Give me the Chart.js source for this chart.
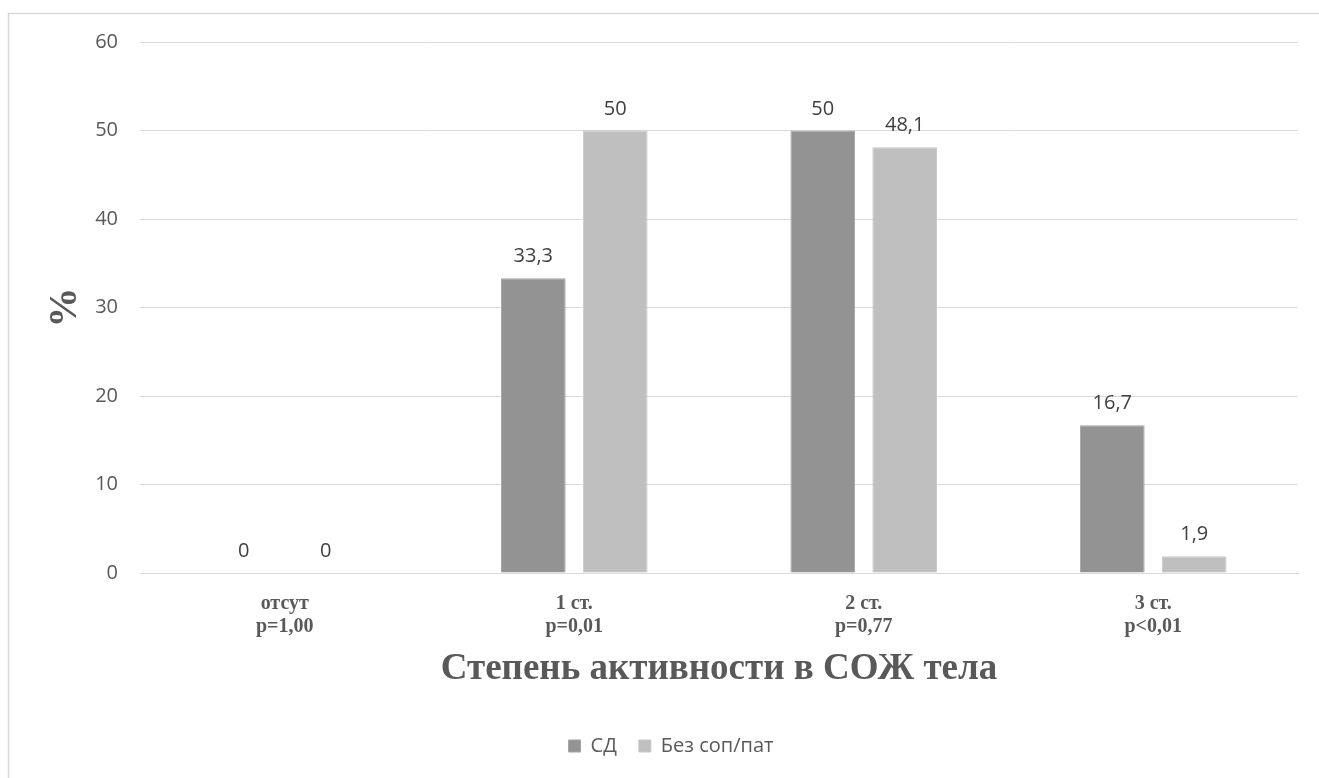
<!DOCTYPE html>
<html>
<head>
<meta charset="utf-8">
<script src="https://cdn.jsdelivr.net/npm/chart.js@4"></script>
<style>
  html, body { margin: 0; padding: 0; background: #ffffff; }
  #wrap { width: 1319px; height: 778px; position: relative; }
</style>
</head>
<body>
<div id="wrap"><canvas id="chart"></canvas></div>
<script>
// Категории (две строки подписи: степень и p-значение)
const categories = [
  ['отсут', 'p=1,00'],
  ['1 ст.', 'p=0,01'],
  ['2 ст.', 'p=0,77'],
  ['3 ст.', 'p<0,01']
];
const seriesNames = ['СД', 'Без соп/пат'];
const valuesSD = [0, 33.3, 50, 16.7];
const valuesNoPath = [0, 50, 48.1, 1.9];
const yTicks = [0, 10, 20, 30, 40, 50, 60];

const textGrey = '#595959';
const gridGrey = '#d9d9d9';

// Подписи значений над столбиками (десятичная запятая)
const valueLabels = {
  id: 'valueLabels',
  afterDatasetsDraw(chart) {
    const ctx = chart.ctx;
    ctx.save();
    ctx.font = '20px "Open Sans"';
    ctx.fillStyle = '#404040';
    ctx.textAlign = 'center';
    ctx.textBaseline = 'alphabetic';
    chart.data.datasets.forEach((ds, i) => {
      chart.getDatasetMeta(i).data.forEach((bar, j) => {
        const txt = String(ds.data[j]).replace('.', ',');
        ctx.fillText(txt, bar.x, bar.y - 16);
      });
    });
    ctx.restore();
  }
};

// Рамка области диаграммы
const frame = {
  id: 'frame',
  beforeDraw(chart) {
    const ctx = chart.ctx;
    ctx.save();
    ctx.fillStyle = '#ffffff';
    ctx.fillRect(0, 0, chart.width, chart.height);
    ctx.strokeStyle = gridGrey;
    ctx.lineWidth = 1.5;
    ctx.beginPath();
    ctx.moveTo(8.5, chart.height + 5);
    ctx.lineTo(8.5, 13.5);
    ctx.lineTo(chart.width + 5, 13.5);
    ctx.stroke();
    ctx.restore();
  }
};

// Легенда центрируется по всей ширине рамки
const legendShift = {
  id: 'legendShift',
  afterLayout(chart) {
    const lg = chart.legend;
    if (lg) { lg.left += 22; lg.right += 22; }
  }
};

new Chart(document.getElementById('chart'), {
  type: 'bar',
  data: {
    labels: categories,
    datasets: [
      { label: seriesNames[0], data: valuesSD, backgroundColor: '#939393',
        borderColor: '#a3a3a3', borderWidth: 1 },
      { label: seriesNames[1], data: valuesNoPath, backgroundColor: '#bfbfbf',
        borderColor: '#c9c9c9', borderWidth: 1 }
    ]
  },
  plugins: [frame, valueLabels, legendShift],
  options: {
    responsive: true,
    maintainAspectRatio: false,
    animation: false,
    datasets: { bar: { categoryPercentage: 0.566, barPercentage: 0.79 } },
    layout: { padding: { left: 0, right: 21, top: 42, bottom: 12 } },
    plugins: {
      tooltip: { enabled: false },
      legend: {
        position: 'bottom',
        labels: {
          boxWidth: 12, boxHeight: 12, padding: 22,
          color: textGrey,
          font: { family: '"Open Sans"', size: 20 }
        }
      }
    },
    scales: {
      x: {
        grid: { display: false, drawTicks: false },
        border: { display: true, color: gridGrey, width: 1 },
        ticks: {
          color: textGrey, padding: 19,
          font: { family: '"Liberation Serif"', size: 20, weight: 'bold', lineHeight: 1.15 }
        },
        title: {
          display: true, text: 'Степень активности в СОЖ тела', color: textGrey,
          font: { family: '"Liberation Serif"', size: 37, weight: 'bold', lineHeight: 1.2 },
          padding: { top: 0, bottom: 22 }
        },
        afterFit(scale) { scale.height = 141; }
      },
      y: {
        min: 0, max: 60,
        afterBuildTicks(scale) { scale.ticks = yTicks.map(v => ({ value: v })); },
        grid: { color: gridGrey, lineWidth: 1, drawTicks: false },
        border: { display: false },
        ticks: {
          color: textGrey, padding: 22,
          font: { family: '"Open Sans"', size: 20 }
        },
        title: {
          display: true, text: '%', color: textGrey,
          font: { family: '"Liberation Serif"', size: 40, weight: 'bold', lineHeight: 1.2 },
          padding: { top: 42, bottom: 0 }
        },
        afterFit(scale) { scale.width = 140; }
      }
    }
  }
});
</script>
</body>
</html>
